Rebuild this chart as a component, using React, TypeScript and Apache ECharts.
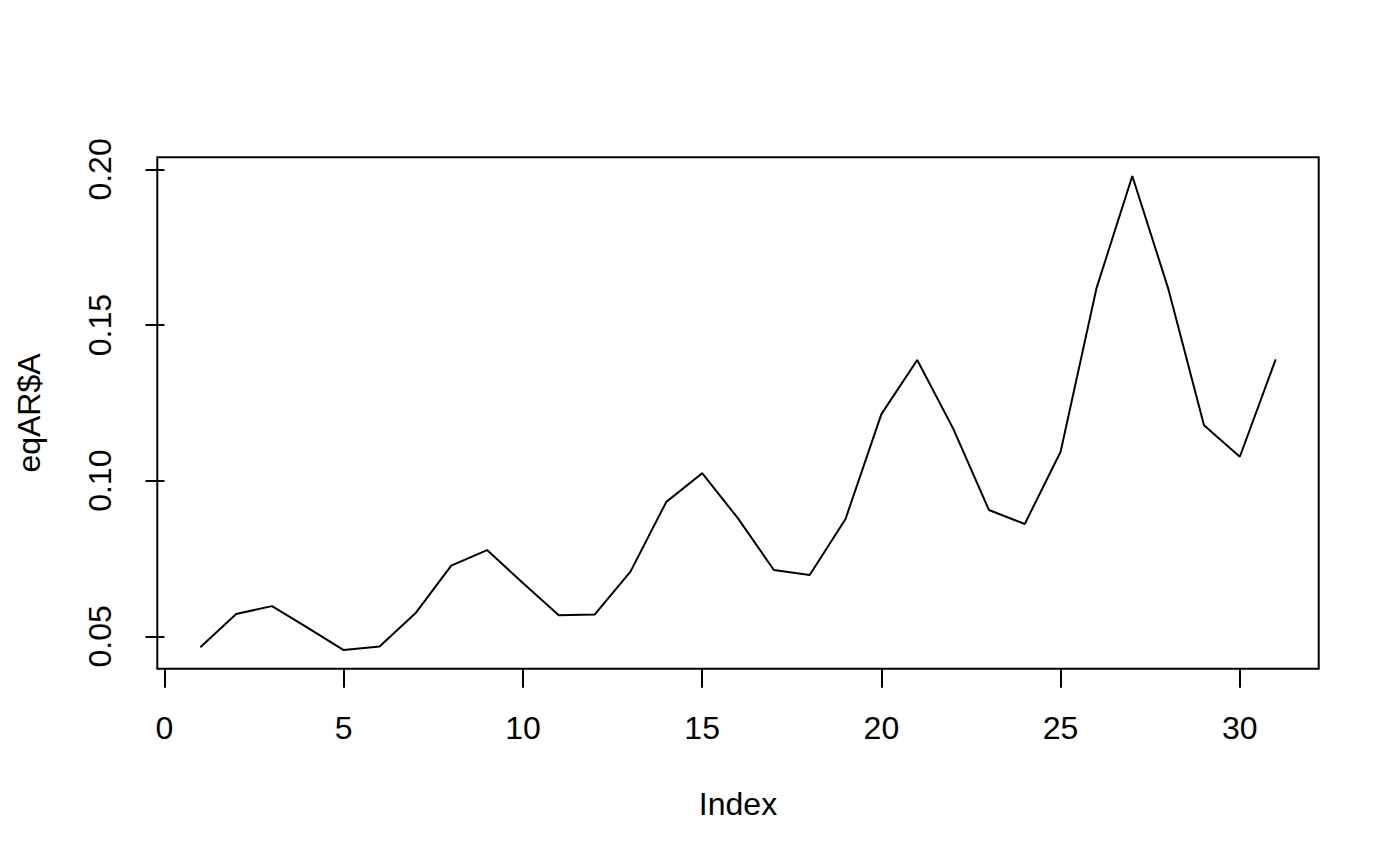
import React, { useEffect, useRef } from "react";
import * as echarts from "echarts";

const indexValues: number[] = [
  1, 2, 3, 4, 5, 6, 7, 8, 9, 10, 11, 12, 13, 14, 15, 16, 17, 18, 19, 20,
  21, 22, 23, 24, 25, 26, 27, 28, 29, 30, 31,
];
const eqARA: number[] = [
  0.0465, 0.0572, 0.0597, 0.0527, 0.0456, 0.0467, 0.0574, 0.0727, 0.0777,
  0.0671, 0.0568, 0.057, 0.0708, 0.0932, 0.1024, 0.0879, 0.0713, 0.0697,
  0.0877, 0.1214, 0.1388, 0.1168, 0.0906, 0.0861, 0.1093, 0.1618, 0.1979,
  0.1618, 0.1178, 0.1077, 0.139,
];
const xTicks: number[] = [0, 5, 10, 15, 20, 25, 30];
const yTicks: number[] = [0.05, 0.1, 0.15, 0.2];
const xLabel = "Index";
const yLabel = "eqAR$A";

export default function App() {
  const ref = useRef<HTMLDivElement>(null);
  useEffect(() => {
    document.body.style.margin = "0";
    document.body.style.overflow = "hidden";
    const chart = echarts.init(ref.current!, null, { renderer: "svg" });
    const font = "'Liberation Sans', Arial, Helvetica, sans-serif";
    chart.setOption({
      animation: false,
      backgroundColor: "#ffffff",
      grid: {
        left: 157.3,
        top: 157.3,
        width: 1161.4,
        height: 511.4,
        show: true,
        borderColor: "#000000",
        borderWidth: 2,
        backgroundColor: "transparent",
      },
      xAxis: {
        type: "value",
        min: -0.2,
        max: 32.2,
        axisLine: { show: false },
        splitLine: { show: false },
        axisTick: {
          show: true,
          length: 19,
          customValues: xTicks,
          lineStyle: { color: "#000000", width: 2 },
        },
        axisLabel: {
          show: true,
          customValues: xTicks,
          margin: 43,
          fontSize: 32,
          fontFamily: font,
          color: "#000000",
        },
        name: xLabel,
        nameLocation: "middle",
        nameGap: 119,
        nameTextStyle: { fontSize: 32, fontFamily: font, color: "#000000" },
      },
      yAxis: {
        type: "value",
        min: 0.0396,
        max: 0.2039,
        axisLine: { show: false },
        splitLine: { show: false },
        axisTick: {
          show: true,
          length: 19,
          customValues: yTicks,
          lineStyle: { color: "#000000", width: 2 },
        },
        axisLabel: {
          show: true,
          customValues: yTicks,
          rotate: 90,
          margin: 41,
          fontSize: 32,
          fontFamily: font,
          color: "#000000",
          formatter: (v: number) => v.toFixed(2),
        },
        name: yLabel,
        nameLocation: "middle",
        nameRotate: 90,
        nameGap: 112,
        nameTextStyle: { fontSize: 32, fontFamily: font, color: "#000000" },
      },
      series: [
        {
          type: "line",
          data: indexValues.map((x, i) => [x, eqARA[i]]),
          showSymbol: false,
          symbol: "none",
          lineStyle: { color: "#000000", width: 2 },
          silent: true,
        },
      ],
    });
    return () => chart.dispose();
  }, []);
  return (
    <div
      ref={ref}
      style={{ position: "absolute", left: 0, top: 0, width: 1400, height: 865 }}
    />
  );
}
